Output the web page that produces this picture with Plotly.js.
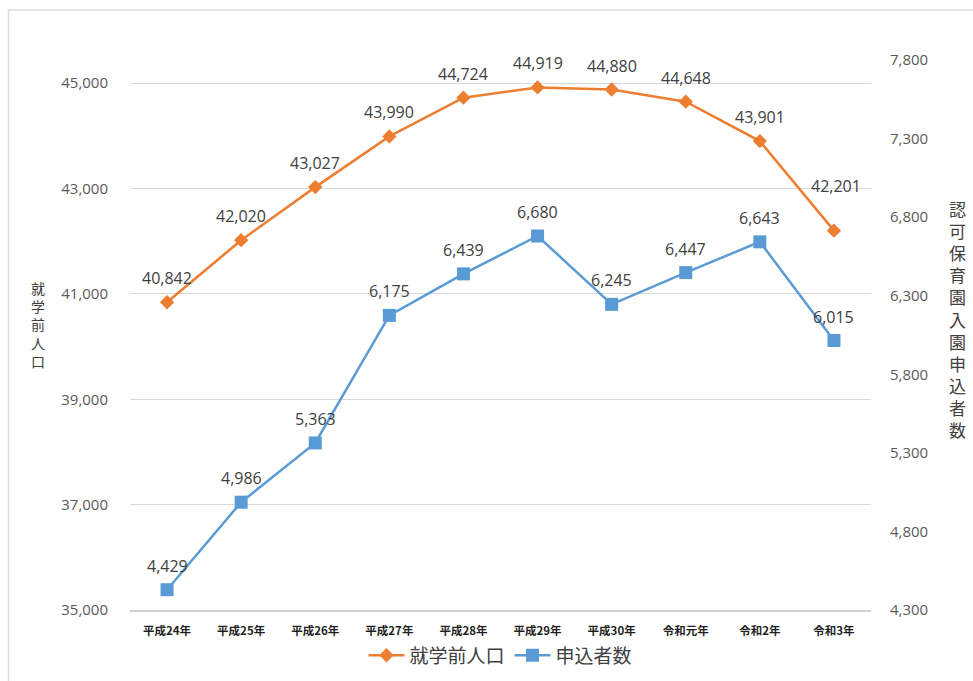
<!DOCTYPE html>
<html>
<head>
<meta charset="utf-8">
<script src="https://cdn.plot.ly/plotly-3.0.1.min.js"></script>
<style>
html,body{margin:0;padding:0;background:#fff;}
#chart{width:973px;height:681px;}
</style>
</head>
<body>
<div id="chart"></div>
<script>
const categories = ["平成24年","平成25年","平成26年","平成27年","平成28年","平成29年","平成30年","令和元年","令和2年","令和3年"];
const preschoolPop = [40842, 42020, 43027, 43990, 44724, 44919, 44880, 44648, 43901, 42201];
const applicants = [4429, 4986, 5363, 6175, 6439, 6680, 6245, 6447, 6643, 6015];
const leftTicks = [35000, 37000, 39000, 41000, 43000, 45000];
const rightTicks = [4300, 4800, 5300, 5800, 6300, 6800, 7300, 7800];
const leftTitle = "就学前人口";
const rightTitle = "認可保育園入園申込者数";
const seriesNames = ["就学前人口", "申込者数"];

const FONT = '"Noto Sans CJK JP", "Noto Sans", sans-serif';
const NUMFONT = '"Open Sans", sans-serif';
const fmt = v => v.toLocaleString('en-US');

const ORANGE = '#ED7D31', BLUE = '#5B9BD5';

const traces = [
  {
    x: categories, y: preschoolPop, name: seriesNames[0], yaxis: 'y',
    mode: 'lines+markers', type: 'scatter',
    line: {color: ORANGE, width: 2.5},
    marker: {symbol: 'diamond', size: 11, color: ORANGE},
    cliponaxis: false
  },
  {
    x: categories, y: applicants, name: seriesNames[1], yaxis: 'y2',
    mode: 'lines+markers', type: 'scatter',
    line: {color: BLUE, width: 2.5},
    marker: {symbol: 'square', size: 13, color: BLUE},
    cliponaxis: false
  }
];

// data labels built from the series arrays
const annotations = [];
preschoolPop.forEach((v, i) => {
  annotations.push({
    x: categories[i], y: v, xref: 'x', yref: 'y', text: fmt(v), showarrow: false,
    yanchor: 'middle', yshift: (i === preschoolPop.length - 1) ? 45 : 24,
    xshift: (i === preschoolPop.length - 1) ? 2 : 0,
    font: {family: NUMFONT, size: 16, color: '#404040'}
  });
});
applicants.forEach((v, i) => {
  annotations.push({
    x: categories[i], y: v, xref: 'x', yref: 'y2', text: fmt(v), showarrow: false,
    yanchor: 'middle', yshift: 24,
    font: {family: NUMFONT, size: 16, color: '#404040'}
  });
});
annotations.push(
  {
    xref: 'paper', yref: 'paper', x: -0.124, y: 0.52, xanchor: 'center', yanchor: 'middle',
    text: leftTitle.split('').join('<br>'), showarrow: false,
    font: {family: FONT, size: 14, color: '#404040'}
  },
  {
    xref: 'paper', yref: 'paper', x: 1.117, y: 0.53, xanchor: 'center', yanchor: 'middle',
    text: rightTitle.split('').join('<br>'), showarrow: false,
    font: {family: FONT, size: 17, color: '#404040'}
  }
);

const layout = {
  width: 973, height: 681,
  paper_bgcolor: '#fff', plot_bgcolor: '#fff',
  margin: {l: 130, r: 102, t: 60, b: 71, autoexpand: false},
  font: {family: FONT},
  showlegend: true,
  legend: {
    orientation: 'h', x: 0.5, xanchor: 'center', y: -0.048, yanchor: 'top',
    font: {family: FONT, size: 19, color: '#404040'}, itemwidth: 36
  },
  xaxis: {
    type: 'category', range: [-0.5, 9.5], fixedrange: true,
    showline: true, linecolor: '#cfcfcf', linewidth: 1.5,
    showgrid: false, zeroline: false,
    ticks: 'outside', ticklen: 10, tickcolor: 'rgba(0,0,0,0)',
    tickfont: {family: FONT, size: 11.5, color: '#1f1f1f', weight: 'bold'}
  },
  yaxis: {
    range: [35000, 45440], tickvals: leftTicks, ticktext: leftTicks.map(fmt),
    showgrid: true, gridcolor: '#d9d9d9', gridwidth: 1, zeroline: false,
    showline: false, ticks: 'outside', ticklen: 18, tickcolor: 'rgba(0,0,0,0)',
    tickfont: {family: NUMFONT, size: 15, color: '#595959'}
  },
  yaxis2: {
    overlaying: 'y', side: 'right',
    range: [4300, 7800], tickvals: rightTicks, ticktext: rightTicks.map(fmt),
    showgrid: false, zeroline: false, showline: false,
    ticks: 'outside', ticklen: 15, tickcolor: 'rgba(0,0,0,0)',
    tickfont: {family: NUMFONT, size: 15, color: '#595959'}
  },
  annotations: annotations,
  shapes: [
    {type: 'rect', xref: 'paper', yref: 'paper', x0: -0.164, x1: 1.25, y0: -0.2, y1: 1.091,
     line: {color: '#dcdcdc', width: 1.5}, fillcolor: 'rgba(0,0,0,0)', layer: 'below'}
  ]
};

Plotly.newPlot('chart', traces, layout, {displayModeBar: false, staticPlot: true});
</script>
</body>
</html>
